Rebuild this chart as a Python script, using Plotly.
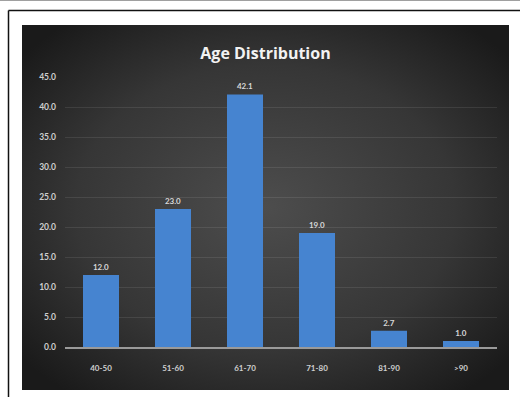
import base64
import plotly.graph_objects as go

# Age groups and their share (%)
age_groups = ["40-50", "51-60", "61-70", "71-80", "81-90", ">90"]
shares = [12.0, 23.0, 42.1, 19.0, 2.7, 1.0]
y_ticks = [0, 5, 10, 15, 20, 25, 30, 35, 40, 45]

W, H = 520, 397
L, R, T, B = 65, 23, 77, 50
pw, ph = W - L - R, H - T - B


def px_x(p):
    return (p - L) / pw


def px_y(p):
    return (H - B - p) / ph


# radial dark background of the chart card
svg = (
    '<svg xmlns="http://www.w3.org/2000/svg" width="487" height="365" '
    'preserveAspectRatio="none" viewBox="0 0 487 365">'
    '<defs><radialGradient id="g" cx="50%" cy="50%" r="65%">'
    '<stop offset="0%" stop-color="#4d4d4d"/>'
    '<stop offset="60%" stop-color="#363636"/>'
    '<stop offset="100%" stop-color="#1a1a1a"/>'
    '</radialGradient></defs>'
    '<rect width="487" height="365" fill="url(#g)"/></svg>'
)
bg_src = "data:image/svg+xml;base64," + base64.b64encode(svg.encode()).decode()

fig = go.Figure(
    go.Bar(
        x=age_groups,
        y=shares,
        width=0.5,
        marker=dict(color="#4684d0", line=dict(width=0)),
        texttemplate="%{y:.1f}",
        textposition="outside",
        textfont=dict(family="Lato", size=8, color="#d8d8d8", weight="bold"),
        cliponaxis=False,
        hoverinfo="skip",
    )
)

frame = dict(color="#111111", width=1.5)

fig.update_layout(
    width=W,
    height=H,
    margin=dict(l=L, r=R, t=T, b=B),
    paper_bgcolor="white",
    plot_bgcolor="rgba(0,0,0,0)",
    showlegend=False,
    bargap=0.5,
    title=dict(
        text="Age Distribution",
        x=px_x(265.5),
        xref="paper",
        xanchor="center",
        y=1 - 53 / H,
        yanchor="middle",
        font=dict(family="Open Sans", size=16, color="#f2f2f2", weight=700),
    ),
    xaxis=dict(
        showgrid=False,
        showline=True,
        linecolor="#9a9a9a",
        linewidth=1.5,
        ticks="",
        tickfont=dict(family="Lato", size=8, color="#cfcfcf", weight="bold"),
        ticklabelstandoff=13,
    ),
    yaxis=dict(
        range=[0, 45],
        tickvals=y_ticks,
        ticktext=[f"{v:.1f}" for v in y_ticks],
        showgrid=True,
        gridcolor="rgba(255,255,255,0.09)",
        gridwidth=1,
        zeroline=False,
        showline=False,
        ticks="",
        tickfont=dict(family="Lato", size=8.5, color="#cfcfcf", weight="bold"),
        ticklabelstandoff=8,
    ),
    images=[
        dict(
            source=bg_src,
            xref="paper",
            yref="paper",
            x=px_x(22),
            y=px_y(25),
            sizex=px_x(509) - px_x(22),
            sizey=px_y(25) - px_y(390),
            sizing="stretch",
            xanchor="left",
            yanchor="top",
            layer="below",
        )
    ],
    shapes=[
        # outer frame: left and top edges
        dict(type="line", xref="paper", yref="paper",
             x0=px_x(8.5), x1=px_x(8.5), y0=px_y(397), y1=px_y(10.5), line=frame),
        dict(type="line", xref="paper", yref="paper",
             x0=px_x(8.5), x1=px_x(520), y0=px_y(10.5), y1=px_y(10.5), line=frame),
        # thin rule along the top edge
        dict(type="line", xref="paper", yref="paper",
             x0=px_x(0), x1=px_x(520), y0=px_y(0.5), y1=px_y(0.5),
             line=dict(color="#a0a0a0", width=1)),
    ],
)

fig.write_html(
    "out.html",
    config={"displayModeBar": False},
    post_script=(
        "document.body.style.margin='0';"
        "document.body.style.overflow='hidden';"
        "document.documentElement.style.overflow='hidden';"
    ),
)
